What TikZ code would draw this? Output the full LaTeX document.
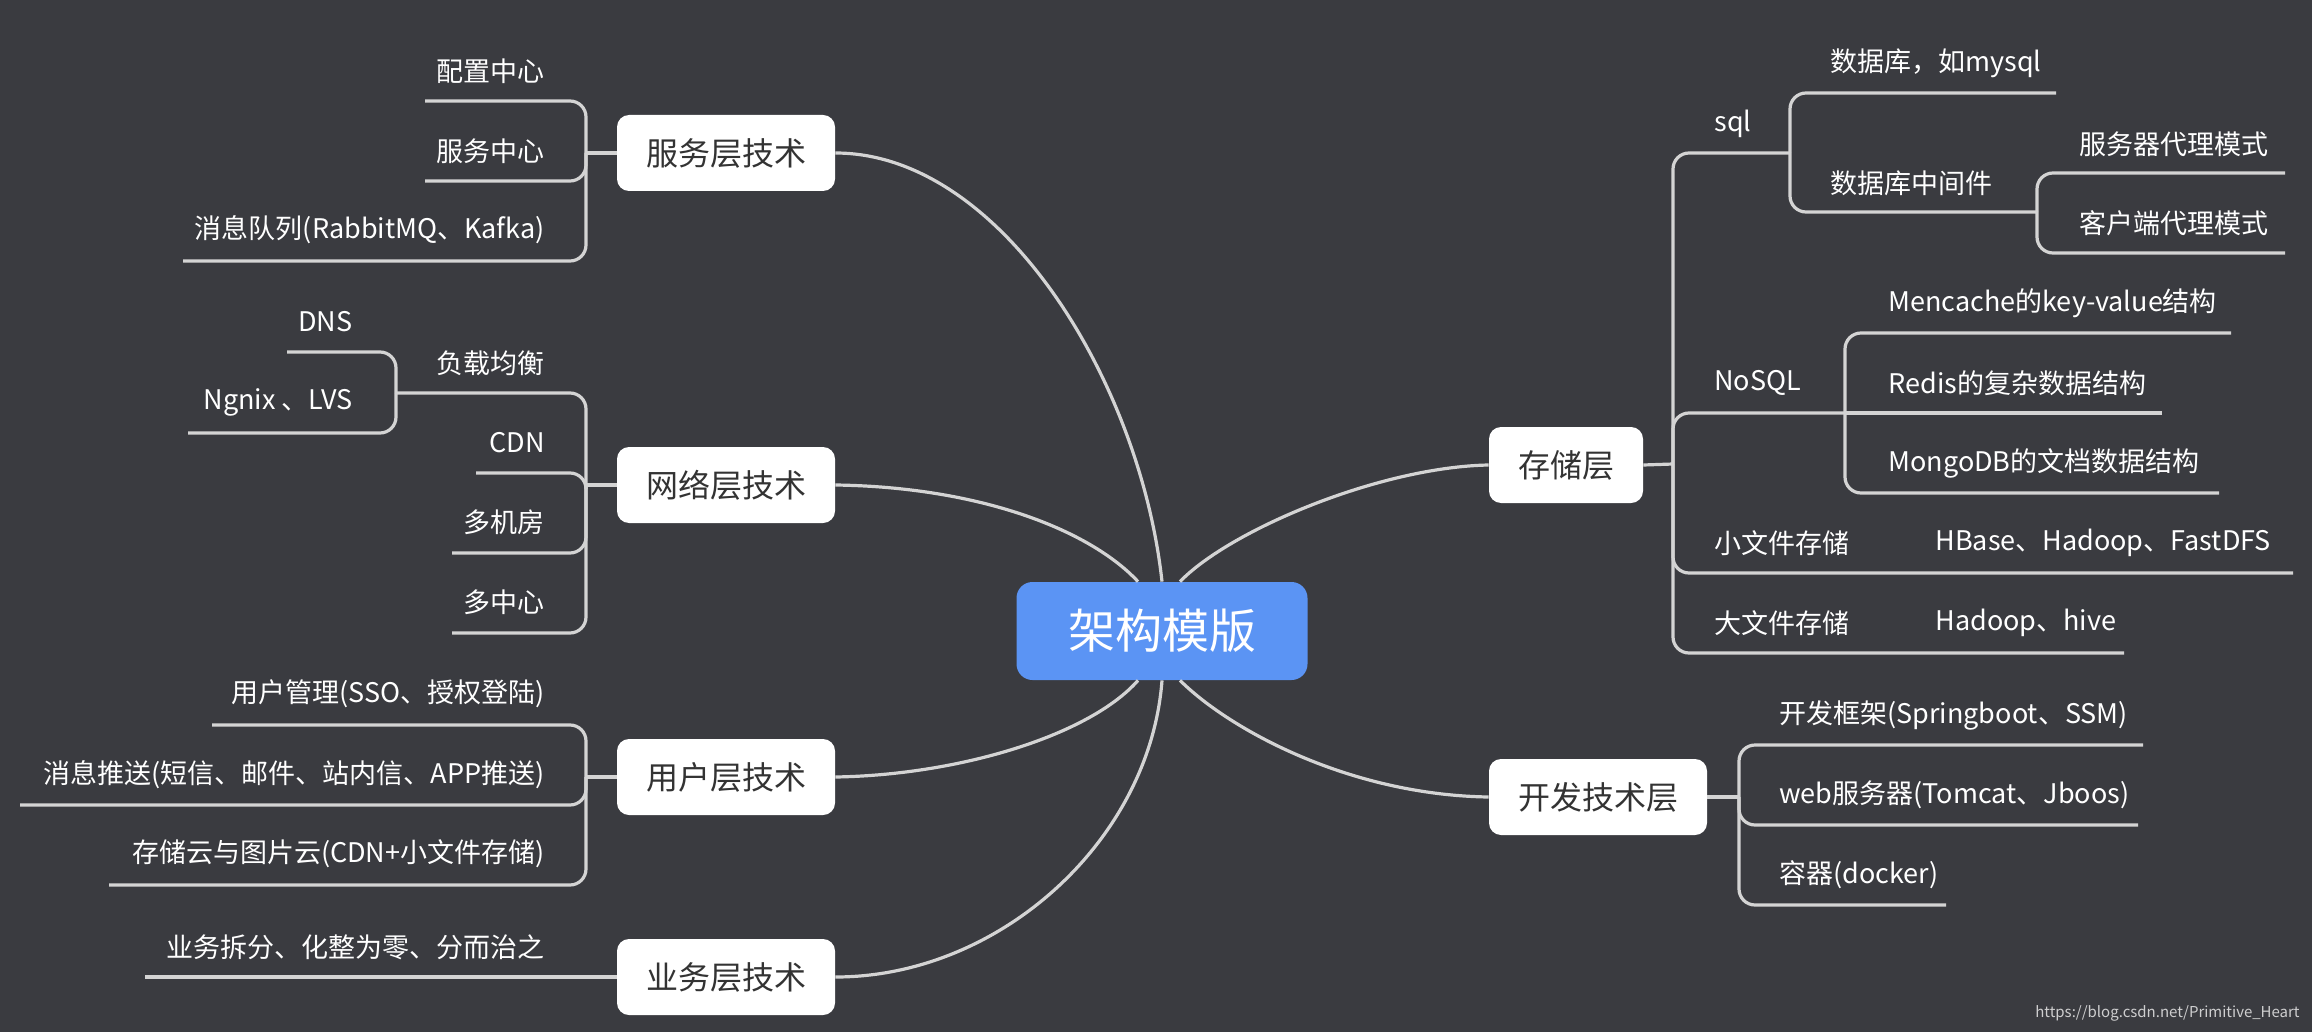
\documentclass[tikz,border=0pt]{standalone}
\usepackage{fontspec}
\setmainfont{Noto Sans CJK SC}
\usetikzlibrary{calc}
\definecolor{bgdark}{HTML}{3A3B40}
\definecolor{linegray}{HTML}{D4D4D4}
\definecolor{rootblue}{HTML}{5B94F4}
\definecolor{topictext}{HTML}{333333}
\tikzset{
  branch/.style={draw=linegray, line width=1.6pt, rounded corners=8pt},
  topic/.style={rectangle, rounded corners=6pt, fill=white, text=topictext,
    font=\fontsize{16}{18}\selectfont, inner xsep=14.5pt, minimum height=38pt},
  leaf/.style={inner sep=0pt, text=white, font=\fontsize{13.5}{15}\selectfont},
}
\begin{document}
\begin{tikzpicture}[x=0.5pt, y=-0.5pt]
  \fill[bgdark] (0,0) rectangle (2312,1032);
  \useasboundingbox (0,0) rectangle (2312,1032);

  \node[rectangle, rounded corners=8pt, fill=rootblue, text=white, minimum width=145.5pt,
    minimum height=49pt, font=\fontsize{23.5}{26}\selectfont] (root) at (1162,631) {架构模版};

  \node[topic] (svc) at (726,153) {服务层技术};
  \node[topic] (net) at (726,485) {网络层技术};
  \node[topic] (usr) at (726,777) {用户层技术};
  \node[topic] (biz) at (726,977) {业务层技术};
  \node[topic] (sto) at (1566,465) {存储层};
  \node[topic] (dev) at (1598,797) {开发技术层};

  % curves from the root
  \draw[branch] (svc.east) .. controls (1000,153) and (1140,380) .. (root.north);
  \draw[branch] (net.east) .. controls (980,487) and (1090,530) .. ($(root.north)+(-24,0)$);
  \draw[branch] (sto.west) .. controls (1380,467) and (1230,530) .. ($(root.north)+(18,0)$);
  \draw[branch] (usr.east) .. controls (960,775) and (1090,735) .. ($(root.south)+(-24,0)$);
  \draw[branch] (biz.east) .. controls (1000,977) and (1150,840) .. (root.south);
  \draw[branch] (dev.west) .. controls (1350,795) and (1230,730) .. ($(root.south)+(18,0)$);

  % left side
  \node[leaf, anchor=east] (cfg) at (545,71) {配置中心};
  \node[leaf, anchor=east] (center) at (545,151) {服务中心};
  \node[leaf, anchor=east] (mq) at (545,230) {消息队列(RabbitMQ、Kafka)};
  \node[leaf, anchor=east] (lb) at (545,363) {负载均衡};
  \node[leaf, anchor=east] (dns) at (353,322) {DNS};
  \node[leaf, anchor=east] (lvs) at (353,402) {Ngnix 、LVS};
  \node[leaf, anchor=east] (cdn) at (545,443) {CDN};
  \node[leaf, anchor=east] (idc) at (545,522) {多机房};
  \node[leaf, anchor=east] (multi) at (545,602) {多中心};
  \node[leaf, anchor=east] (user) at (545,694) {用户管理(SSO、授权登陆)};
  \node[leaf, anchor=east] (push) at (545,775) {消息推送(短信、邮件、站内信、APP推送)};
  \node[leaf, anchor=east] (cloud) at (545,854) {存储云与图片云(CDN+小文件存储)};
  \node[leaf, anchor=east] (split) at (545,947) {业务拆分、化整为零、分而治之};

  \coordinate (svcj) at (586,153);
  \coordinate (netj) at (586,485);
  \coordinate (lbj) at (396,393);
  \coordinate (usrj) at (586,777);
  \coordinate (cfge) at (425,101);
  \coordinate (centere) at (425,181);
  \coordinate (mqe) at (183,261);
  \coordinate (dnse) at (287,352);
  \coordinate (lvse) at (188,433);
  \coordinate (cdne) at (476,473);
  \coordinate (idce) at (452,553);
  \coordinate (multie) at (452,633);
  \coordinate (usere) at (212,725);
  \coordinate (pushe) at (20,805);
  \coordinate (cloude) at (109,885);
  \coordinate (splite) at (145,977);

  \draw[branch] (svc.west) -- (svcj);
  \draw[branch] (svcj) |- (cfge);
  \draw[branch] (svcj) |- (centere);
  \draw[branch] (svcj) |- (mqe);
  \draw[branch] (net.west) -- (netj);
  \draw[branch] (netj) |- (lbj);
  \draw[branch] (lbj) |- (dnse);
  \draw[branch] (lbj) |- (lvse);
  \draw[branch] (netj) |- (cdne);
  \draw[branch] (netj) |- (idce);
  \draw[branch] (netj) |- (multie);
  \draw[branch] (usr.west) -- (usrj);
  \draw[branch] (usrj) |- (usere);
  \draw[branch] (usrj) |- (pushe);
  \draw[branch] (usrj) |- (cloude);
  \draw[branch] (biz.west) -- (splite);

  % right side
  \node[leaf, anchor=west] (sql) at (1714,124) {sql};
  \node[leaf, anchor=west] (nosql) at (1714,383) {NoSQL};
  \node[leaf, anchor=west] (small) at (1714,543) {小文件存储};
  \node[leaf, anchor=west] (big) at (1714,623) {大文件存储};
  \node[leaf, anchor=west] (mysql) at (1830,63) {数据库，如mysql};
  \node[leaf, anchor=west] (mid) at (1830,183) {数据库中间件};
  \node[leaf, anchor=west] (srv) at (2079,144) {服务器代理模式};
  \node[leaf, anchor=west] (cli) at (2079,223) {客户端代理模式};
  \node[leaf, anchor=west] (memc) at (1888,303) {Mencache的key-value结构};
  \node[leaf, anchor=west] (redis) at (1888,383) {Redis的复杂数据结构};
  \node[leaf, anchor=west] (mongo) at (1888,463) {MongoDB的文档数据结构};
  \node[leaf, anchor=west] (hbase) at (1935,543) {HBase、Hadoop、FastDFS};
  \node[leaf, anchor=west] (hive) at (1935,623) {Hadoop、hive};
  \node[leaf, anchor=west] (frame) at (1779,715) {开发框架(Springboot、SSM)};
  \node[leaf, anchor=west] (web) at (1779,795) {web服务器(Tomcat、Jboos)};
  \node[leaf, anchor=west] (docker) at (1779,875) {容器(docker)};

  \coordinate (stoj) at (1673,464);
  \coordinate (sqlj) at (1790,153);
  \coordinate (midj) at (2037,212);
  \coordinate (nosj) at (1845,413);
  \coordinate (devj) at (1739,797);
  \coordinate (mysqle) at (2056,93);
  \coordinate (srve) at (2285,173);
  \coordinate (clie) at (2285,253);
  \coordinate (memce) at (2231,333);
  \coordinate (redise) at (2162,413);
  \coordinate (mongoe) at (2219,493);
  \coordinate (hbasee) at (2293,573);
  \coordinate (hivee) at (2124,653);
  \coordinate (framee) at (2143,745);
  \coordinate (webe) at (2138,825);
  \coordinate (dockere) at (1946,905);

  \draw[branch] (sto.east) -- (stoj);
  \draw[branch] (stoj) |- (sqlj);
  \draw[branch] (sqlj) |- (mysqle);
  \draw[branch] (sqlj) |- (midj);
  \draw[branch] (midj) |- (srve);
  \draw[branch] (midj) |- (clie);
  \draw[branch] (stoj) |- (nosj);
  \draw[branch] (nosj) |- (memce);
  \draw[branch] (nosj) -- (redise);
  \draw[branch] (nosj) |- (mongoe);
  \draw[branch] (stoj) |- (hbasee);
  \draw[branch] (stoj) |- (hivee);
  \draw[branch] (dev.east) -- (devj);
  \draw[branch] (devj) |- (framee);
  \draw[branch] (devj) |- (webe);
  \draw[branch] (devj) |- (dockere);

  \node[inner sep=0pt, anchor=east, text=white!75!bgdark, font=\fontsize{7.5}{9}\selectfont]
    (url) at (2300,1013) {https://blog.csdn.net/Primitive\_Heart};
\end{tikzpicture}
\end{document}
